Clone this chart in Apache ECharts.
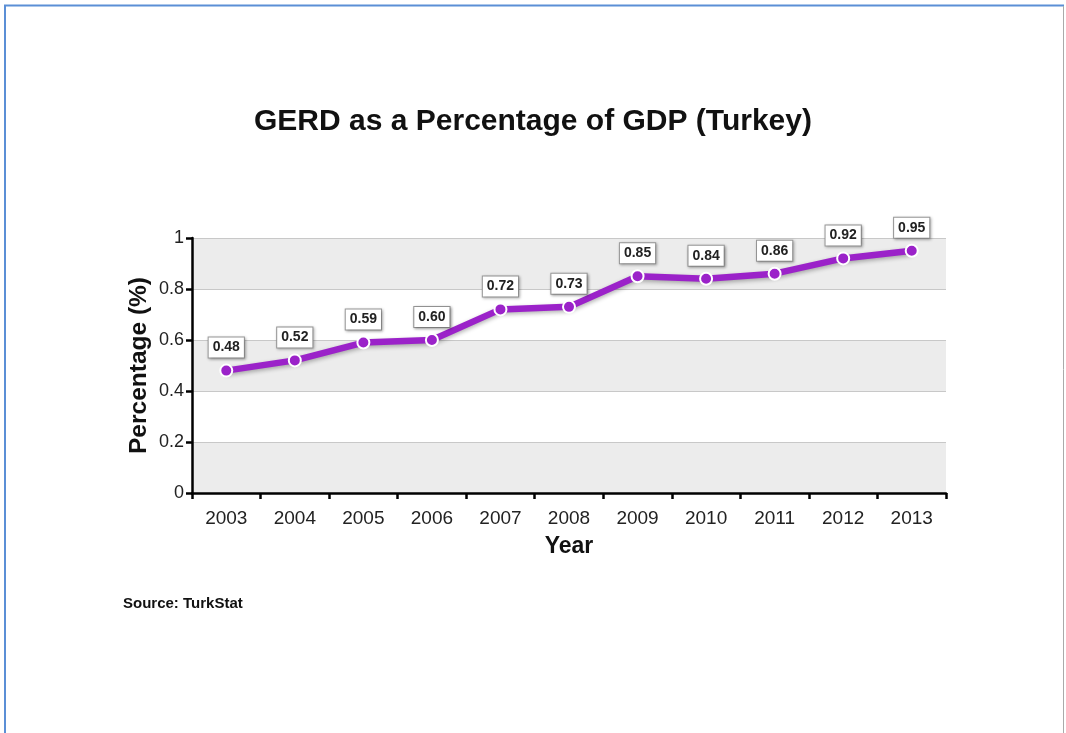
<!DOCTYPE html>
<html><head><meta charset="utf-8">
<script src="https://cdn.jsdelivr.net/npm/echarts@6/dist/echarts.min.js"></script>
<style>html,body{margin:0;padding:0;background:#fff;}#c{width:1066px;height:733px;}</style>
</head><body><div id="c"></div>
<script>
const years = ['2003','2004','2005','2006','2007','2008','2009','2010','2011','2012','2013'];
const gerd = [0.48,0.52,0.59,0.60,0.72,0.73,0.85,0.84,0.86,0.92,0.95];
const titleText = 'GERD as a Percentage of GDP (Turkey)';
const xName = 'Year';
const yName = 'Percentage (%)';
const sourceText = 'Source: TurkStat';

const chart = echarts.init(document.getElementById('c'), null, {renderer:'canvas'});
const FF = '"Liberation Sans", Arial, sans-serif';
chart.setOption({
  backgroundColor:'#fff',
  animation:false,
  title:{text:titleText,left:'center',top:102,textStyle:{fontFamily:FF,fontSize:30,fontWeight:'bold',color:'#111'}},
  grid:{left:192,right:120,top:238,bottom:240},
  xAxis:{type:'category',data:years,boundaryGap:true,
    name:xName,nameLocation:'middle',nameGap:42,
    nameTextStyle:{fontFamily:FF,fontSize:23,fontWeight:'bold',color:'#111'},
    axisLine:{lineStyle:{color:'#000',width:2.5}},
    axisTick:{show:true,length:6,lineStyle:{color:'#000',width:2.5}},
    axisLabel:{fontFamily:FF,fontSize:19,color:'#222',margin:16},
    splitLine:{show:false}},
  yAxis:{type:'value',min:0,max:1,interval:0.2,
    name:yName,nameLocation:'middle',nameGap:40,nameMoveOverlap:false,
    nameTextStyle:{fontFamily:FF,fontSize:24.5,fontWeight:'bold',color:'#111'},
    axisLine:{show:true,lineStyle:{color:'#000',width:2.5}},
    axisTick:{show:true,length:6,lineStyle:{color:'#000',width:2.5}},
    axisLabel:{fontFamily:FF,fontSize:18,color:'#222',margin:8,formatter:v=>String(+v.toFixed(1))},
    splitLine:{show:true,lineStyle:{color:'#c8c8c8',width:1}},
    splitArea:{show:true,areaStyle:{color:['#ececec','#ffffff']}}},
  series:[{type:'line',data:gerd,
    lineStyle:{color:'#9b22c9',width:6.5,shadowColor:'rgba(0,0,0,0.3)',shadowBlur:4,shadowOffsetY:2},
    symbol:'circle',symbolSize:12,
    itemStyle:{color:'#9b22c9',borderColor:'#fff',borderWidth:2},
    label:{show:true,position:'top',distance:6,
      formatter:p=>p.value.toFixed(2),
      fontFamily:FF,fontSize:14,fontWeight:'bold',color:'#222',
      backgroundColor:'#fff',borderColor:'#999',borderWidth:1,padding:[3,4,3,4],
      shadowColor:'rgba(0,0,0,0.3)',shadowBlur:3,shadowOffsetX:1,shadowOffsetY:1}
  }],
  graphic:[
    {type:'text',left:123,top:596,style:{text:sourceText,fontFamily:FF,fontSize:15,fontWeight:'bold',fill:'#111'}},
    {type:'line',shape:{x1:4,y1:5.5,x2:1064,y2:5.5},style:{stroke:'#5b8fd6',lineWidth:2}},
    {type:'line',shape:{x1:5,y1:5,x2:5,y2:733},style:{stroke:'#5b8fd6',lineWidth:2}},
    {type:'line',shape:{x1:1063.5,y1:6,x2:1063.5,y2:733},style:{stroke:'#aaaaaa',lineWidth:1}}
  ]
});
</script></body></html>
